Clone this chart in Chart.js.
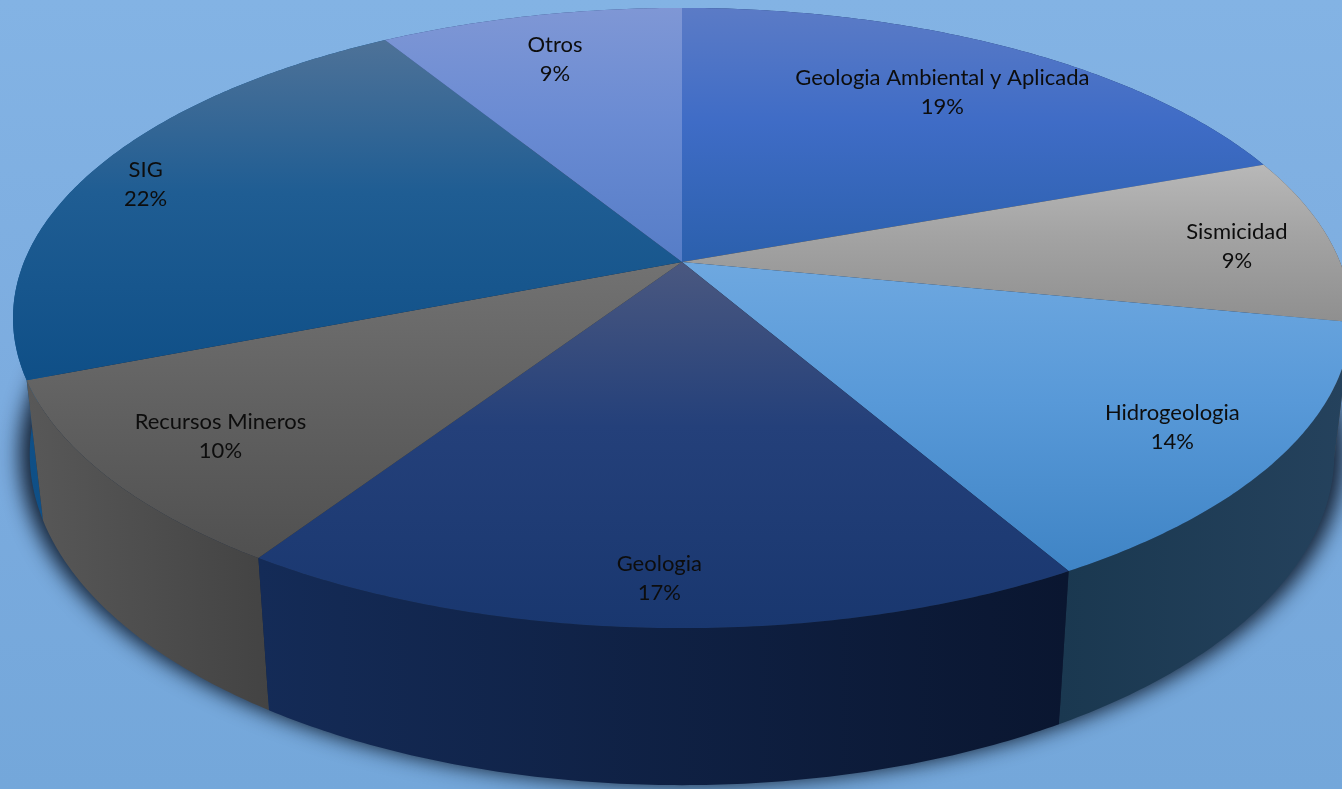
<!DOCTYPE html>
<html lang="es">
<head>
<meta charset="utf-8">
<title>Temas</title>
<style>
    html, body {
        margin: 0;
        padding: 0;
        background: linear-gradient(180deg, #83b3e4 0%, #7cacdf 50%, #74a7da 100%);
        height: 100%;
        overflow: hidden;
    }
    canvas { display: block; }
</style>
<script src="https://cdn.jsdelivr.net/npm/chart.js@4"></script>
</head>
<body>
<canvas id="grafico" width="1342" height="789"></canvas>
<script>
    const categorias = ['Geologia Ambiental y Aplicada', 'Sismicidad', 'Hidrogeologia', 'Geologia', 'Recursos Mineros', 'SIG', 'Otros'];
    const valores = [19.4, 8.7, 13.65, 17.45, 9.8, 22.28, 8.72];

    // colores de la cara superior (arriba, medio, abajo de cada sector)
    const colorArriba = ['#5b7bc6', '#b8b8b8', '#6ea8e0', '#4a5880', '#727272', '#4e7298', '#7f97d5'];
    const colorMedio = ['#3f6cc6', '#a3a3a3', '#5899d8', '#24407a', '#626262', '#1f5d93', '#6a8bd3'];
    const colorAbajo = ['#2b60ad', '#8f8f8f', '#3f84c5', '#19376f', '#505050', '#0f4f87', '#567dc7'];

    // colores de la pared lateral (izquierda y derecha)
    const paredIzq = ['#1b3a6e', '#4a4a4a', '#1a3850', '#142b57', '#585858', '#0f4f86', '#2c4a80'];
    const paredDer = ['#1b3a6e', '#4a4a4a', '#25425d', '#0a1630', '#434343', '#10538f', '#2c4a80'];

    // distancia de cada etiqueta al centro, como fraccion del radio
    const radioEtiqueta = [0.77, 0.85, 0.84, 0.885, 0.824, 0.897, 0.8];
    const ajusteEtiquetaX = [0, 4, -2, -2, 2, -4, -2];
    const ajusteEtiquetaY = [1, 5, 4, 1, 2, 4, 1];

    // perspectiva del disco
    const centroX = 682;
    const centroY = 262;
    const radioX = 658;
    const radioY = 300;
    const fuga = 0.1806;

    function proyectar(r, angulo) {
        const u = r * Math.sin(angulo);
        const v = r * Math.cos(angulo);
        const w = 1 + fuga * v;
        return { x: centroX + radioX * u / w, y: centroY - radioY * v / w };
    }

    // el mismo punto en el borde de abajo del disco
    function bajar(p) {
        return { x: centroX + 0.975 * (p.x - centroX), y: 1.0685 * p.y + 114 };
    }

    function puntosBorde(inicio, fin) {
        const pasos = Math.max(2, Math.ceil((fin - inicio) / 0.01));
        const puntos = [];
        for (let i = 0; i <= pasos; i++) {
            puntos.push(proyectar(1, inicio + (fin - inicio) * i / pasos));
        }
        return puntos;
    }

    function trazar(ctx, puntos) {
        ctx.beginPath();
        puntos.forEach(function (p, i) {
            if (i === 0) ctx.moveTo(p.x, p.y);
            else ctx.lineTo(p.x, p.y);
        });
        ctx.closePath();
    }

    const pastel3d = {
        id: 'pastel3d',
        beforeDatasetDraw: function (chart, args) {
            const ctx = chart.ctx;
            const arcos = args.meta.data.map(function (arco, i) {
                const inicio = arco.startAngle + Math.PI / 2;
                const fin = arco.endAngle + Math.PI / 2;
                return { i: i, inicio: inicio, fin: fin, borde: puntosBorde(inicio, fin) };
            });

            // sombra bajo el disco: la figura queda fuera del lienzo y solo se ve su sombra
            const desplazar = 3000;
            const silueta = puntosBorde(0, Math.PI * 2).map(function (p) {
                return {
                    x: centroX + 0.99 * (p.x - centroX) - desplazar,
                    y: 1.0685 * p.y + 114
                };
            });
            ctx.save();
            ctx.shadowColor = 'rgba(10, 20, 35, 0.9)';
            ctx.shadowBlur = 20;
            ctx.shadowOffsetX = desplazar;
            ctx.fillStyle = '#000';
            trazar(ctx, silueta);
            ctx.fill();
            ctx.restore();

            // paredes, de atras hacia adelante
            const orden = arcos.slice().sort(function (a, b) {
                return Math.cos((b.inicio + b.fin) / 2) - Math.cos((a.inicio + a.fin) / 2);
            });
            orden.forEach(function (a) {
                const abajo = a.borde.map(bajar).reverse();
                const xs = a.borde.concat(abajo).map(function (p) { return p.x; });
                const grad = ctx.createLinearGradient(Math.min.apply(null, xs), 0, Math.max.apply(null, xs), 0);
                grad.addColorStop(0, paredIzq[a.i]);
                grad.addColorStop(1, paredDer[a.i]);
                ctx.fillStyle = grad;
                trazar(ctx, a.borde.concat(abajo));
                ctx.fill();
            });

            // cara superior
            arcos.forEach(function (a) {
                const puntos = [{ x: centroX, y: centroY }].concat(a.borde);
                const ys = puntos.map(function (p) { return p.y; });
                const grad = ctx.createLinearGradient(0, Math.min.apply(null, ys), 0, Math.max.apply(null, ys));
                grad.addColorStop(0, colorArriba[a.i]);
                grad.addColorStop(0.45, colorMedio[a.i]);
                grad.addColorStop(1, colorAbajo[a.i]);
                ctx.fillStyle = grad;
                trazar(ctx, puntos);
                ctx.fill();
            });

            return false;
        },
        afterDatasetsDraw: function (chart) {
            const ctx = chart.ctx;
            const total = valores.reduce(function (s, v) { return s + v; }, 0);
            ctx.save();
            ctx.font = '22px Lato, "Open Sans", sans-serif';
            ctx.fillStyle = '#0d0d0d';
            ctx.textAlign = 'center';
            ctx.textBaseline = 'middle';
            chart.getDatasetMeta(0).data.forEach(function (arco, i) {
                const medio = (arco.startAngle + arco.endAngle) / 2 + Math.PI / 2;
                const p = proyectar(radioEtiqueta[i], medio);
                const x = p.x + ajusteEtiquetaX[i];
                const y = p.y + ajusteEtiquetaY[i];
                ctx.fillText(categorias[i], x, y - 15);
                ctx.fillText(Math.round(valores[i] / total * 100) + '%', x, y + 14);
            });
            ctx.restore();
        }
    };

    new Chart(document.getElementById('grafico').getContext('2d'), {
        type: 'pie',
        data: {
            labels: categorias,
            datasets: [{ data: valores, backgroundColor: colorMedio, borderWidth: 0 }]
        },
        plugins: [pastel3d],
        options: {
            responsive: false,
            animation: false,
            plugins: {
                legend: { display: false },
                tooltip: { enabled: false }
            }
        }
    });
</script>
</body>
</html>
